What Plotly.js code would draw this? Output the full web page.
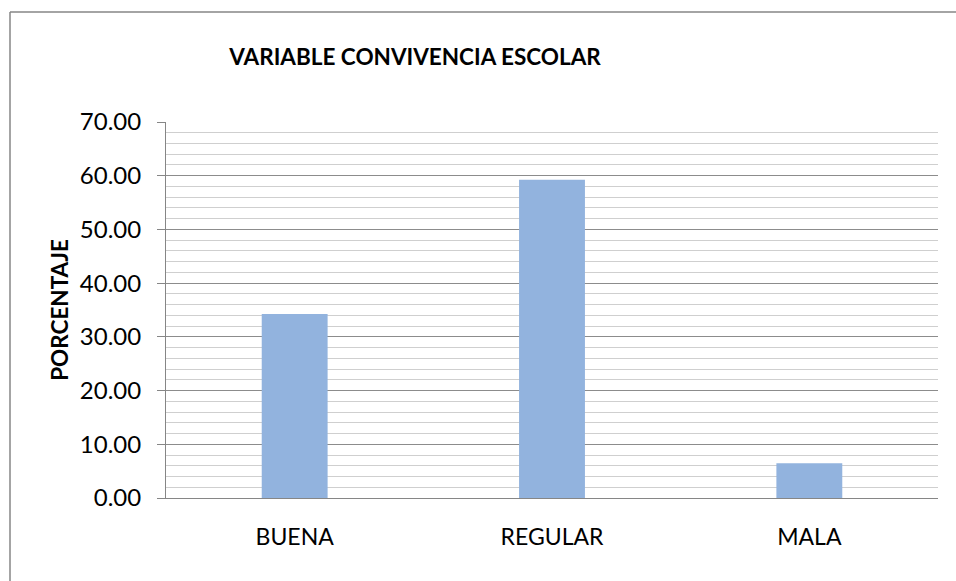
<!DOCTYPE html>
<html>
<head>
<meta charset="utf-8">
<script src="https://cdn.plot.ly/plotly-3.0.1.min.js"></script>
<style>
html,body{margin:0;padding:0;background:#fff;}
#chart{width:956px;height:581px;}
</style>
</head>
<body>
<div id="chart"></div>
<script>
const categories = ["BUENA", "REGULAR", "MALA"];
const porcentaje = [34.26, 59.26, 6.48];
const yTickVals = [0, 10, 20, 30, 40, 50, 60, 70];
const yTickText = ["0.00", "10.00", "20.00", "30.00", "40.00", "50.00", "60.00", "70.00"];
const chartTitle = "VARIABLE CONVIVENCIA ESCOLAR";
const yTitle = "PORCENTAJE";

const W = 956, H = 581;
const L = 166, R = 18, T = 122, B = 83;
const pw = W - L - R, ph = H - T - B;
const px = v => (v - L) / pw;
const py = v => (H - B - v) / ph;

const font = "Lato, 'Open Sans', sans-serif";

const trace = {
  type: "bar",
  x: categories,
  y: porcentaje,
  marker: { color: "#92b3de", line: { width: 0 } },
  hoverinfo: "x+y"
};

const layout = {
  width: W, height: H,
  margin: { l: L, r: R, t: T, b: B, pad: 0 },
  paper_bgcolor: "#ffffff",
  plot_bgcolor: "#ffffff",
  showlegend: false,
  bargap: 0.744,
  font: { family: font, color: "#000000" },
  title: {
    text: "<b>" + chartTitle + "</b>",
    font: { family: font, size: 22.5, color: "#000000" },
    x: 415 / W, xref: "container", xanchor: "center",
    y: 1 - 57 / H, yref: "container", yanchor: "middle"
  },
  xaxis: {
    type: "category",
    showline: true, linecolor: "#868686", linewidth: 1,
    ticks: "", showgrid: false,
    tickfont: { family: font, size: 23, color: "#000000" },
    ticklabelstandoff: 18,
    zeroline: false
  },
  yaxis: {
    range: [0, 70],
    tickvals: yTickVals, ticktext: yTickText,
    ticks: "outside", ticklen: 8, tickcolor: "#868686", tickwidth: 1,
    ticklabelstandoff: 11,
    showline: true, linecolor: "#868686", linewidth: 1,
    showgrid: true, gridcolor: "#8c8c8c", gridwidth: 1,
    zeroline: false,
    minor: { dtick: 2, showgrid: true, gridcolor: "#cfcfcf", gridwidth: 1, ticks: "" },
    tickfont: { family: font, size: 24, color: "#000000" },
    title: {
      text: "<b>" + yTitle + "</b>",
      font: { family: font, size: 22.5, color: "#000000" },
      standoff: 4
    }
  },
  shapes: [
    { type: "line", xref: "paper", yref: "paper",
      x0: px(10), x1: px(W + 20), y0: py(12), y1: py(12),
      line: { color: "#868686", width: 1.5 } },
    { type: "line", xref: "paper", yref: "paper",
      x0: px(10), x1: px(10), y0: py(12), y1: py(H + 20),
      line: { color: "#868686", width: 1.5 } }
  ]
};

Plotly.newPlot("chart", [trace], layout, { displayModeBar: false, staticPlot: true });
</script>
</body>
</html>
